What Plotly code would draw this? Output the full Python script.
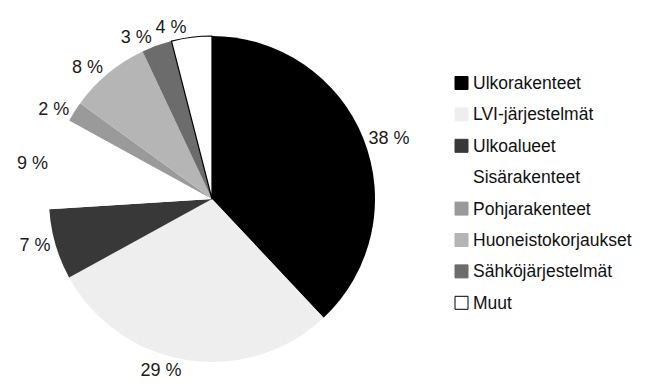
import plotly.graph_objects as go

# Repair cost shares by building component
labels = ["Ulkorakenteet", "LVI-järjestelmät", "Ulkoalueet", "Sisärakenteet",
          "Pohjarakenteet", "Huoneistokorjaukset", "Sähköjärjestelmät", "Muut"]
values = [38, 29, 7, 9, 2, 8, 3, 4]
colors = ["#000000", "#eeeeee", "#383838", "#ffffff",
          "#9a9a9a", "#b5b5b5", "#6c6c6c", "#ffffff"]
outline = [0, 0, 0, 0, 0, 0, 0, 1.2]

FONT = "Liberation Sans, Arial, sans-serif"
PIE_DOMAIN = dict(x=[49 / 650, 375 / 650], y=[1 - 362 / 388, 1 - 36 / 388])

# The last slice's label sits on its own overlay trace so it is not
# pushed away (with a leader line) by its neighbour's label.
main_pos = ["outside"] * (len(values) - 1) + ["none"]
overlay_pos = ["none"] * (len(values) - 1) + ["outside"]

fig = go.Figure()
fig.add_trace(go.Pie(
    labels=labels,
    values=values,
    sort=False,
    direction="clockwise",
    rotation=0,
    marker=dict(colors=colors, line=dict(color="#000000", width=outline)),
    texttemplate="%{value} %",
    textposition=main_pos,
    textfont=dict(family=FONT, size=18, color="#1a1a1a"),
    showlegend=False,
    hoverinfo="label+percent",
    domain=PIE_DOMAIN,
))
fig.add_trace(go.Pie(
    labels=labels,
    values=values,
    sort=False,
    direction="clockwise",
    rotation=0,
    marker=dict(colors=["rgba(0,0,0,0)"] * len(values), line=dict(width=0)),
    texttemplate="%{value} %",
    textposition=overlay_pos,
    textfont=dict(family=FONT, size=18, color="#1a1a1a"),
    showlegend=False,
    hoverinfo="skip",
    domain=PIE_DOMAIN,
))

# Legend drawn as a column of swatches and labels
legend_x = 455 / 650
legend_top = 1 - 83 / 388
step = 31.4 / 388
sw_w = 13 / 650
sw_h = 13 / 388
shapes = []
annotations = []
for i, (name, col) in enumerate(zip(labels, colors)):
    yc = legend_top - i * step
    border = "#000000" if name == "Muut" else col
    shapes.append(dict(
        type="rect", xref="paper", yref="paper",
        x0=legend_x, x1=legend_x + sw_w,
        y0=yc - sw_h / 2, y1=yc + sw_h / 2,
        fillcolor=col, line=dict(color=border, width=1),
    ))
    annotations.append(dict(
        x=legend_x + sw_w + 0.004, y=yc, xref="paper", yref="paper",
        xanchor="left", yanchor="middle", showarrow=False,
        text=name,
        font=dict(family=FONT, size=17.5, color="#111111"),
    ))

fig.update_layout(
    width=650, height=388,
    margin=dict(l=0, r=0, t=0, b=0, autoexpand=False),
    paper_bgcolor="#ffffff",
    plot_bgcolor="#ffffff",
    shapes=shapes,
    annotations=annotations,
)

fig.write_html("out.html")
